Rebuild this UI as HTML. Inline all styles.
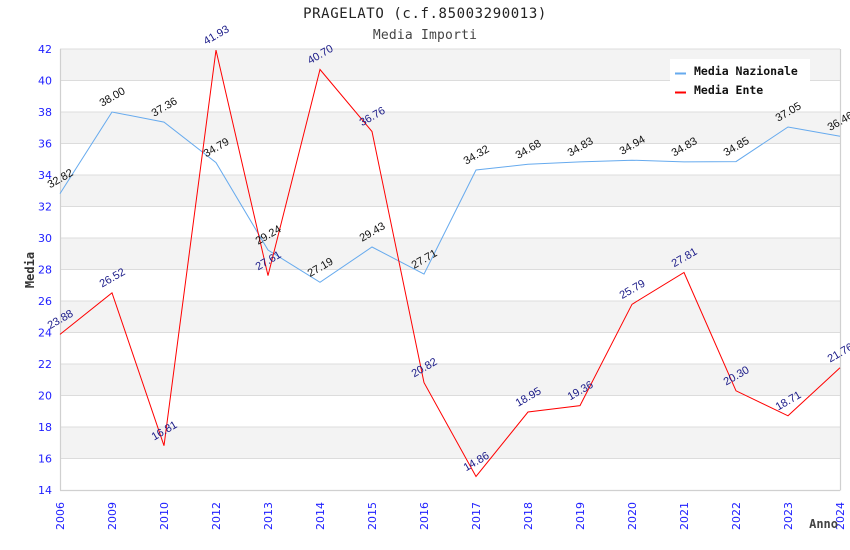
<!DOCTYPE html>
<html><head><meta charset="utf-8"><style>
html,body{margin:0;padding:0;background:#fff;}
svg{display:block;}
.tk{font-family:"DejaVu Sans","Liberation Sans",sans-serif;font-size:11px;fill:#1e1eff;}
.ln{font-family:"Liberation Sans","DejaVu Sans",sans-serif;font-size:11px;}
.mono{font-family:"DejaVu Sans Mono","Liberation Mono",monospace;}
</style></head><body>
<svg width="850" height="550" viewBox="0 0 850 550" xmlns="http://www.w3.org/2000/svg">
<rect width="850" height="550" fill="#fff"/>
<!-- bands -->
<g fill="#f3f3f3">
<rect x="60" y="49" width="780" height="31.5"/>
<rect x="60" y="112" width="780" height="31.5"/>
<rect x="60" y="175" width="780" height="31.5"/>
<rect x="60" y="238" width="780" height="31.5"/>
<rect x="60" y="301" width="780" height="31.5"/>
<rect x="60" y="364" width="780" height="31.5"/>
<rect x="60" y="427" width="780" height="31.5"/>
</g>
<g stroke="#dcdcdc" stroke-width="1">
<line x1="60" y1="49" x2="840" y2="49"/>
<line x1="60" y1="80.5" x2="840" y2="80.5"/>
<line x1="60" y1="112" x2="840" y2="112"/>
<line x1="60" y1="143.5" x2="840" y2="143.5"/>
<line x1="60" y1="175" x2="840" y2="175"/>
<line x1="60" y1="206.5" x2="840" y2="206.5"/>
<line x1="60" y1="238" x2="840" y2="238"/>
<line x1="60" y1="269.5" x2="840" y2="269.5"/>
<line x1="60" y1="301" x2="840" y2="301"/>
<line x1="60" y1="332.5" x2="840" y2="332.5"/>
<line x1="60" y1="364" x2="840" y2="364"/>
<line x1="60" y1="395.5" x2="840" y2="395.5"/>
<line x1="60" y1="427" x2="840" y2="427"/>
<line x1="60" y1="458.5" x2="840" y2="458.5"/>
</g>
<g stroke="#d0d0d0" stroke-width="1.2" fill="none">
<line x1="60.5" y1="49" x2="60.5" y2="490.5"/>
<line x1="60" y1="490.5" x2="840" y2="490.5"/>
<line x1="840.5" y1="49" x2="840.5" y2="490.5"/>
</g>
<!-- titles -->
<text x="425" y="18" text-anchor="middle" class="mono" font-size="14" letter-spacing="0.6" fill="#222">PRAGELATO (c.f.85003290013)</text>
<text x="425" y="39" text-anchor="middle" class="mono" font-size="13" letter-spacing="0.2" fill="#444">Media Importi</text>
<!-- y ticks -->
<g class="tk" text-anchor="end">
<text x="52" y="53">42</text>
<text x="52" y="84.5">40</text>
<text x="52" y="116">38</text>
<text x="52" y="147.5">36</text>
<text x="52" y="179">34</text>
<text x="52" y="210.5">32</text>
<text x="52" y="242">30</text>
<text x="52" y="273.5">28</text>
<text x="52" y="305">26</text>
<text x="52" y="336.5">24</text>
<text x="52" y="368">22</text>
<text x="52" y="399.5">20</text>
<text x="52" y="431">18</text>
<text x="52" y="462.5">16</text>
<text x="52" y="494">14</text>
</g>
<!-- x ticks -->
<g class="tk" text-anchor="end">
<text transform="translate(64,502) rotate(-90)">2006</text>
<text transform="translate(116,502) rotate(-90)">2009</text>
<text transform="translate(168,502) rotate(-90)">2010</text>
<text transform="translate(220,502) rotate(-90)">2012</text>
<text transform="translate(272,502) rotate(-90)">2013</text>
<text transform="translate(324,502) rotate(-90)">2014</text>
<text transform="translate(376,502) rotate(-90)">2015</text>
<text transform="translate(428,502) rotate(-90)">2016</text>
<text transform="translate(480,502) rotate(-90)">2017</text>
<text transform="translate(532,502) rotate(-90)">2018</text>
<text transform="translate(584,502) rotate(-90)">2019</text>
<text transform="translate(636,502) rotate(-90)">2020</text>
<text transform="translate(688,502) rotate(-90)">2021</text>
<text transform="translate(740,502) rotate(-90)">2022</text>
<text transform="translate(792,502) rotate(-90)">2023</text>
<text transform="translate(844,502) rotate(-90)">2024</text>
</g>
<!-- axis titles -->
<text transform="translate(34,270) rotate(-90)" text-anchor="middle" class="mono" font-size="12" font-weight="bold" fill="#333">Media</text>
<text x="838" y="528" text-anchor="end" class="mono" font-size="12" font-weight="bold" fill="#444">Anno</text>
<!-- series -->
<polyline fill="none" stroke="#66aaee" stroke-width="1" points="60,193.6 112,112 164,122.1 216,162.6 268,250 320,282.3 372,247 424,274.1 476,170 528,164.3 580,161.9 632,160.2 684,161.9 736,161.6 788,127 840,136.3"/>
<polyline fill="none" stroke="#ff0000" stroke-width="1" points="60,334.4 112,292.8 164,445.7 216,50.1 268,275.6 320,69.5 372,131.5 424,382.6 476,476.5 528,412 580,405.6 632,304.3 684,272.5 736,390.8 788,415.8 840,367.8"/>
<!-- labels nazionale -->
<g class="ln" fill="#111" text-anchor="middle">
<text transform="translate(62,181.6) rotate(-30)">32.82</text>
<text transform="translate(114,100) rotate(-30)">38.00</text>
<text transform="translate(166,110.1) rotate(-30)">37.36</text>
<text transform="translate(218,150.6) rotate(-30)">34.79</text>
<text transform="translate(270,238) rotate(-30)">29.24</text>
<text transform="translate(322,270.3) rotate(-30)">27.19</text>
<text transform="translate(374,235) rotate(-30)">29.43</text>
<text transform="translate(426,262.1) rotate(-30)">27.71</text>
<text transform="translate(478,158) rotate(-30)">34.32</text>
<text transform="translate(530,152.3) rotate(-30)">34.68</text>
<text transform="translate(582,149.9) rotate(-30)">34.83</text>
<text transform="translate(634,148.2) rotate(-30)">34.94</text>
<text transform="translate(686,149.9) rotate(-30)">34.83</text>
<text transform="translate(738,149.6) rotate(-30)">34.85</text>
<text transform="translate(790,115) rotate(-30)">37.05</text>
<text transform="translate(842,124.3) rotate(-30)">36.46</text>
</g>
<!-- labels ente -->
<g class="ln" fill="#1a1a88" text-anchor="middle">
<text transform="translate(62,322.4) rotate(-30)">23.88</text>
<text transform="translate(114,280.8) rotate(-30)">26.52</text>
<text transform="translate(166,433.7) rotate(-30)">16.81</text>
<text transform="translate(218,38.1) rotate(-30)">41.93</text>
<text transform="translate(270,263.6) rotate(-30)">27.61</text>
<text transform="translate(322,57.5) rotate(-30)">40.70</text>
<text transform="translate(374,119.5) rotate(-30)">36.76</text>
<text transform="translate(426,370.6) rotate(-30)">20.82</text>
<text transform="translate(478,464.5) rotate(-30)">14.86</text>
<text transform="translate(530,400) rotate(-30)">18.95</text>
<text transform="translate(582,393.6) rotate(-30)">19.36</text>
<text transform="translate(634,292.3) rotate(-30)">25.79</text>
<text transform="translate(686,260.5) rotate(-30)">27.81</text>
<text transform="translate(738,378.8) rotate(-30)">20.30</text>
<text transform="translate(790,403.8) rotate(-30)">18.71</text>
<text transform="translate(842,355.8) rotate(-30)">21.76</text>
</g>
<!-- legend -->
<rect x="670" y="59" width="140" height="42" fill="#fff"/>
<line x1="675" y1="73.5" x2="686" y2="73.5" stroke="#66aaee" stroke-width="2"/>
<line x1="675" y1="92.5" x2="686" y2="92.5" stroke="#ff0000" stroke-width="2"/>
<text x="694" y="75" class="mono" font-size="11.5" font-weight="bold" fill="#111">Media Nazionale</text>
<text x="694" y="94" class="mono" font-size="11.5" font-weight="bold" fill="#111">Media Ente</text>
</svg>
</body></html>
